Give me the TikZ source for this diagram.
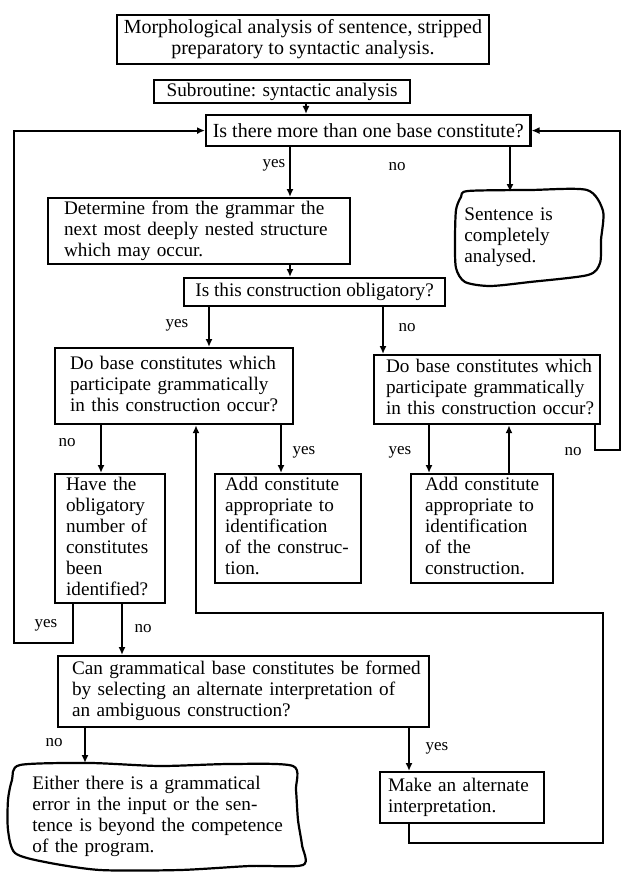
\documentclass[tikz,border=0pt]{standalone}
\usepackage{fontspec}
\setmainfont{Liberation Serif}
\usetikzlibrary{arrows.meta}
% stacked left-aligned lines that never re-break
\newcommand{\boxlines}[1]{\begin{tabular}{@{}l@{}}#1\end{tabular}}
\begin{document}
\begin{tikzpicture}[x=0.5pt,y=-0.5pt,
  txt/.style={font=\fontsize{9.6}{10.5}\selectfont},
  bigtxt/.style={font=\fontsize{10}{10.5}\selectfont},
  box/.style={txt, draw, line width=1.1pt, anchor=north west, inner ysep=0pt, align=left},
  free/.style={txt, anchor=north west, inner ysep=0pt, align=left},
  lbl/.style={font=\fontsize{8.5}{10}\selectfont, inner sep=0pt},
  arr/.style={line width=1pt, -{Latex[length=4pt,width=3.5pt]}},
  blob/.style={line width=1.1pt}]
\useasboundingbox (0,0) rectangle (622,872);

% boxes
\node[box, bigtxt, align=center, minimum width=185.5pt, minimum height=24.5pt] (morph) at (116,14)
  {Morphological analysis of sentence, stripped\\preparatory to syntactic analysis.};
\node[box, align=center, minimum width=128pt, minimum height=11.5pt] (sub) at (153,79)
  {Subroutine: syntactic analysis};
\node[box, bigtxt, align=center, minimum width=161.5pt, minimum height=15.5pt] (q1) at (205,114)
  {Is there more than one base constitute?};
\node[box, text width=135pt, inner xsep=8pt, minimum height=33pt] (det) at (47,197)
  {\boxlines{Determine from the grammar the\\next most deeply nested structure\\which may occur.}};
\node[free, text width=64pt, inner xsep=6pt, minimum height=45pt] (sent) at (452,192)
  {\boxlines{Sentence is\\completely\\analysed.}};
\node[box, align=center, minimum width=130.5pt, minimum height=14pt] (q2) at (183,277)
  {Is this construction obligatory?};
\node[box, text width=104pt, inner xsep=7.5pt, minimum height=38pt] (do1) at (54,347)
  {\boxlines{Do base constitutes which\\participate grammatically\\in this construction occur?}};
\node[box, text width=101pt, inner xsep=6pt, minimum height=34.5pt] (do2) at (373,354)
  {\boxlines{Do base constitutes which\\participate grammatically\\in this construction occur?}};
\node[box, text width=44pt, inner xsep=5.5pt, minimum height=64.5pt] (have) at (54,473)
  {\boxlines{Have the\\obligatory\\number of\\constitutes\\been\\identified?}};
\node[box, text width=63pt, inner xsep=5pt, minimum height=54.5pt] (add1) at (214,473)
  {\boxlines{Add constitute\\appropriate to\\identification\\of the construc-\\tion.}};
\node[box, text width=57pt, inner xsep=7pt, minimum height=54.5pt] (add2) at (410,473)
  {\boxlines{Add constitute\\appropriate to\\identification\\of the\\construction.}};
\node[box, text width=171.5pt, inner xsep=7pt, minimum height=35.5pt] (q3) at (57,655)
  {\boxlines{Can grammatical base constitutes be formed\\by selecting an alternate interpretation of\\an ambiguous construction?}};
\node[free, text width=123pt, inner xsep=13pt, minimum height=53.5pt] (err) at (6,763)
  {\boxlines{Either there is a grammatical\\error in the input or the sen-\\tence is beyond the competence\\of the program.}};
\node[box, text width=74pt, inner xsep=4pt, minimum height=25.5pt] (make) at (379,771)
  {\boxlines{Make an alternate\\interpretation.}};

% hand-drawn outlines of the two terminal boxes
\draw[blob] plot[smooth cycle, tension=0.45] coordinates {(468,191) (530,190) (587,190) (603,211) (601,240) (600,263) (588,275) (530,282) (490,286) (465,282) (456,268) (455,240) (456,210) (461,197)};
\draw[blob] plot[smooth cycle, tension=0.45] coordinates {(20,765) (90,763) (160,766) (230,764) (293,766) (296,790) (298,820) (302,845) (303,865) (250,866) (180,870) (100,870) (45,862) (15,853) (8,830) (8,800) (12,780)};

% branch labels
\node[lbl] (y1) at (274,165) {yes};
\node[lbl] (n1) at (397,167) {no};
\node[lbl] (y2) at (177,325) {yes};
\node[lbl] (n2) at (407,328) {no};
\node[lbl] (n3) at (67,443) {no};
\node[lbl] (y3) at (304,452) {yes};
\node[lbl] (y4) at (400,452) {yes};
\node[lbl] (n4) at (573,452) {no};
\node[lbl] (y5) at (46,625) {yes};
\node[lbl] (n5) at (143,629) {no};
\node[lbl] (n6) at (54,743) {no};
\node[lbl] (y6) at (437,748) {yes};

% straight connectors
\draw[arr] (sub.south -| 306,0) -- (q1.north -| 306,0);
\draw[arr] (q1.south -| 290,0) -- (det.north -| 290,0);
\draw[arr] (q1.south -| 510,0) -- (sent.north -| 510,0);
\draw[arr] (det.south -| 290,0) -- (q2.north -| 290,0);
\draw[arr] (q2.south -| 209,0) -- (do1.north -| 209,0);
\draw[arr] (q2.south -| 383,0) -- (do2.north -| 383,0);
\draw[arr] (do1.south -| 101,0) -- (have.north -| 101,0);
\draw[arr] (do1.south -| 281,0) -- (add1.north -| 281,0);
\draw[arr] (do2.south -| 429,0) -- (add2.north -| 429,0);
\draw[arr] (add2.north -| 509,0) -- (do2.south -| 509,0);
\draw[arr] (have.south -| 122,0) -- (q3.north -| 122,0);
\draw[arr] (q3.south -| 85,0) -- (err.north -| 85,0);
\draw[arr] (q3.south -| 409,0) -- (make.north -| 409,0);

% feedback loops
\coordinate (lc) at (14,643);
\coordinate (rc) at (620,450);
\coordinate (bc) at (603,843);
\coordinate (mc) at (603,613);
\draw[arr] (have.south -| 73,0) |- (lc) |- (q1.west);
\draw[arr] (do2.south -| 595,0) |- (rc) |- (q1.east);
\draw[arr] (make.south -| 409,0) |- (bc) -- (mc) -| (do1.south -| 196,0);
\end{tikzpicture}
\end{document}
